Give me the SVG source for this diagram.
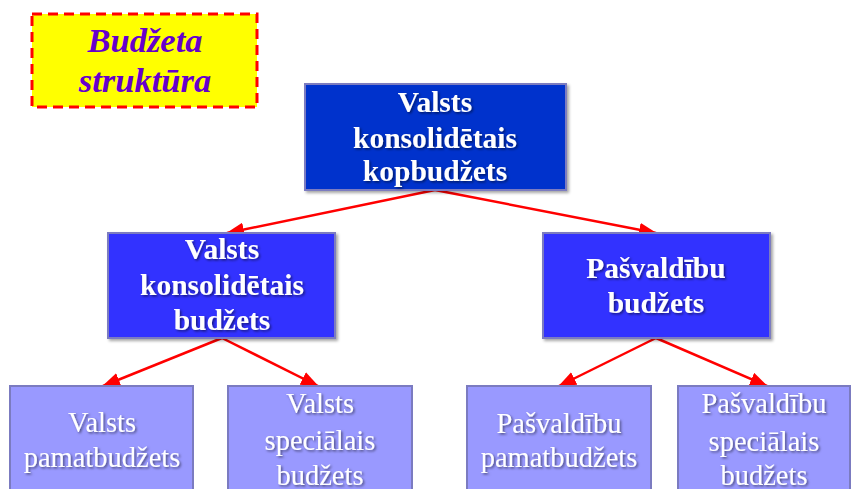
<svg xmlns="http://www.w3.org/2000/svg" width="852" height="489" viewBox="0 0 852 489">
<defs>
<filter id="sh" x="-10%" y="-10%" width="120%" height="130%">
<feDropShadow dx="1.5" dy="1.5" stdDeviation="1" flood-color="#000" flood-opacity="0.5"/>
</filter>
<filter id="bs" x="-5%" y="-5%" width="115%" height="115%">
<feDropShadow dx="2" dy="2" stdDeviation="1.5" flood-color="#000" flood-opacity="0.35"/>
</filter>
<marker id="ah" viewBox="0 0 18 14" refX="17" refY="7" markerWidth="18" markerHeight="14" markerUnits="userSpaceOnUse" orient="auto">
<path d="M0,0 L18,7 L0,14 z" fill="#FF0000"/>
</marker>
</defs>
<style>
.box{stroke:#7B7BC0;stroke-width:2}
.l1{fill:#0033CC}
.l2{fill:#3333FF}
.l3{fill:#9999FF}
.tb{font-family:"Liberation Serif",serif;font-weight:bold;font-size:29.5px;fill:#fff;text-anchor:middle}
.tr{font-family:"Liberation Serif",serif;font-size:28.5px;fill:#fff;text-anchor:middle}
.conn{stroke:#FF0000;stroke-width:2.5;fill:none;marker-end:url(#ah)}
</style>
<rect width="852" height="489" fill="#fff"/>
<g id="title">
<rect x="32" y="14" width="225" height="93" fill="#FFFF00" stroke="#FF0000" stroke-width="3" stroke-dasharray="10,6"/>
<text x="145" y="52" font-family="Liberation Serif,serif" font-weight="bold" font-style="italic" font-size="34.5" fill="#6600CC" text-anchor="middle">Budžeta</text>
<text x="145" y="92" font-family="Liberation Serif,serif" font-weight="bold" font-style="italic" font-size="34.5" fill="#6600CC" text-anchor="middle">struktūra</text>
</g>
<g id="connectors">
<line class="conn" x1="435" y1="190" x2="227" y2="233"/>
<line class="conn" x1="435" y1="190" x2="656" y2="233"/>
<line class="conn" x1="222" y1="338" x2="103" y2="386"/>
<line class="conn" x1="222" y1="338" x2="318" y2="386"/>
<line class="conn" x1="656" y1="338" x2="559" y2="386"/>
<line class="conn" x1="656" y1="338" x2="767" y2="386"/>
</g>
<g id="n-top">
<rect class="box l1" x="305" y="84" width="261" height="106" filter="url(#bs)"/>
<g filter="url(#sh)">
<text class="tb" x="435" y="112">Valsts</text>
<text class="tb" x="435" y="148">konsolidētais</text>
<text class="tb" x="435" y="181">kopbudžets</text>
</g>
</g>
<g id="n-vkb">
<rect class="box l2" x="108" y="233" width="227" height="105" filter="url(#bs)"/>
<g filter="url(#sh)">
<text class="tb" x="222" y="259">Valsts</text>
<text class="tb" x="222" y="295">konsolidētais</text>
<text class="tb" x="222" y="330">budžets</text>
</g>
</g>
<g id="n-pb">
<rect class="box l2" x="543" y="233" width="227" height="105" filter="url(#bs)"/>
<g filter="url(#sh)">
<text class="tb" x="656" y="278">Pašvaldību</text>
<text class="tb" x="656" y="313">budžets</text>
</g>
</g>
<g id="n-vpb">
<rect class="box l3" x="10" y="386" width="183" height="110"/>
<g filter="url(#sh)">
<text class="tr" x="102" y="432">Valsts</text>
<text class="tr" x="102" y="467">pamatbudžets</text>
</g>
</g>
<g id="n-vsb">
<rect class="box l3" x="228" y="386" width="184" height="110"/>
<g filter="url(#sh)">
<text class="tr" x="320" y="413">Valsts</text>
<text class="tr" x="320" y="450">speciālais</text>
<text class="tr" x="320" y="485">budžets</text>
</g>
</g>
<g id="n-ppb">
<rect class="box l3" x="467" y="386" width="184" height="110"/>
<g filter="url(#sh)">
<text class="tr" x="559" y="433">Pašvaldību</text>
<text class="tr" x="559" y="467">pamatbudžets</text>
</g>
</g>
<g id="n-psb">
<rect class="box l3" x="678" y="386" width="172" height="110"/>
<g filter="url(#sh)">
<text class="tr" x="764" y="413">Pašvaldību</text>
<text class="tr" x="764" y="451">speciālais</text>
<text class="tr" x="764" y="485">budžets</text>
</g>
</g>
</svg>
